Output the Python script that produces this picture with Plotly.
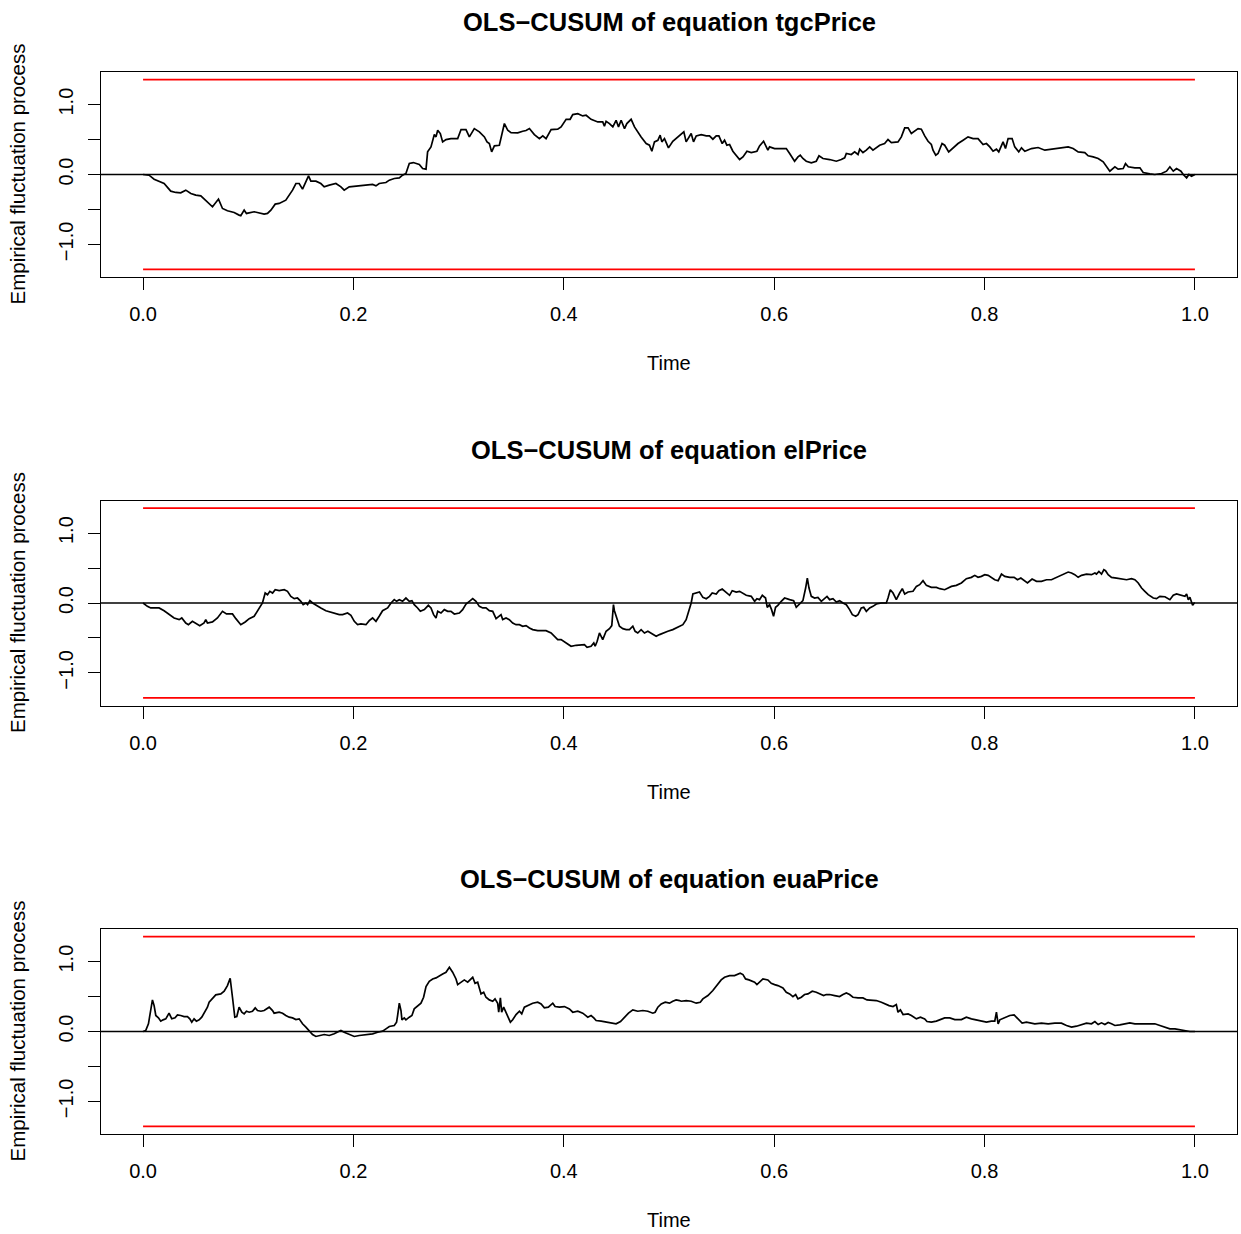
import plotly.graph_objects as go

# ---------------------------------------------------------------------------
# OLS-CUSUM empirical fluctuation processes (time on [0, 1])
# ---------------------------------------------------------------------------
t_tgc = [0.0000, 0.0057, 0.0105, 0.0152, 0.0200, 0.0263, 0.0311, 0.0358, 0.0406, 0.0454,
         0.0501, 0.0549, 0.0596, 0.0660, 0.0717, 0.0755, 0.0802, 0.0866, 0.0913, 0.0929,
         0.0961, 0.0983, 0.1056, 0.1151, 0.1183, 0.1215, 0.1256, 0.1294, 0.1357, 0.1389,
         0.1421, 0.1453, 0.1484, 0.1516, 0.1548, 0.1573, 0.1595, 0.1643, 0.1690, 0.1722,
         0.1770, 0.1833, 0.1881, 0.1912, 0.1960, 0.2055, 0.2119, 0.2182, 0.2214, 0.2245,
         0.2309, 0.2341, 0.2388, 0.2436, 0.2467, 0.2499, 0.2531, 0.2569, 0.2626, 0.2658,
         0.2690, 0.2705, 0.2737, 0.2769, 0.2785, 0.2801, 0.2826, 0.2848, 0.2880, 0.2927,
         0.2991, 0.3023, 0.3070, 0.3102, 0.3149, 0.3197, 0.3245, 0.3270, 0.3292, 0.3314,
         0.3340, 0.3387, 0.3435, 0.3467, 0.3498, 0.3562, 0.3609, 0.3641, 0.3673, 0.3720,
         0.3768, 0.3800, 0.3831, 0.3879, 0.3942, 0.3974, 0.4022, 0.4060, 0.4085, 0.4133,
         0.4180, 0.4212, 0.4259, 0.4323, 0.4370, 0.4386, 0.4402, 0.4434, 0.4466, 0.4497,
         0.4520, 0.4545, 0.4577, 0.4599, 0.4640, 0.4672, 0.4735, 0.4783, 0.4814, 0.4837,
         0.4862, 0.4894, 0.4916, 0.4932, 0.4957, 0.4995, 0.5036, 0.5100, 0.5116, 0.5141,
         0.5163, 0.5195, 0.5211, 0.5233, 0.5259, 0.5306, 0.5354, 0.5385, 0.5417, 0.5449,
         0.5474, 0.5506, 0.5528, 0.5550, 0.5576, 0.5607, 0.5639, 0.5671, 0.5703, 0.5741,
         0.5782, 0.5836, 0.5861, 0.5899, 0.5925, 0.5940, 0.5956, 0.6004, 0.6051, 0.6115,
         0.6147, 0.6194, 0.6226, 0.6248, 0.6273, 0.6305, 0.6353, 0.6400, 0.6426, 0.6464,
         0.6527, 0.6591, 0.6638, 0.6670, 0.6686, 0.6733, 0.6765, 0.6797, 0.6813, 0.6844,
         0.6876, 0.6908, 0.6939, 0.7003, 0.7050, 0.7082, 0.7114, 0.7177, 0.7209, 0.7241,
         0.7273, 0.7304, 0.7368, 0.7399, 0.7431, 0.7463, 0.7494, 0.7510, 0.7536, 0.7558,
         0.7596, 0.7621, 0.7659, 0.7701, 0.7748, 0.7796, 0.7843, 0.7891, 0.7938, 0.7986,
         0.8018, 0.8050, 0.8081, 0.8113, 0.8135, 0.8176, 0.8199, 0.8224, 0.8262, 0.8287,
         0.8325, 0.8351, 0.8383, 0.8446, 0.8509, 0.8573, 0.8636, 0.8684, 0.8731, 0.8795,
         0.8842, 0.8890, 0.8953, 0.8985, 0.9033, 0.9080, 0.9128, 0.9160, 0.9191, 0.9239,
         0.9270, 0.9318, 0.9340, 0.9366, 0.9429, 0.9477, 0.9508, 0.9572, 0.9619, 0.9683,
         0.9730, 0.9762, 0.9794, 0.9825, 0.9867, 0.9889, 0.9921, 0.9943, 0.9968, 1.0000]
v_tgc = [0.000, -0.010, -0.067, -0.095, -0.129, -0.238, -0.257, -0.262, -0.224, -0.271,
         -0.295, -0.305, -0.367, -0.462, -0.352, -0.486, -0.519, -0.543, -0.581, -0.590,
         -0.510, -0.557, -0.533, -0.567, -0.557, -0.510, -0.424, -0.414, -0.367, -0.295,
         -0.224, -0.129, -0.129, -0.210, -0.095, -0.019, -0.095, -0.095, -0.129, -0.176,
         -0.152, -0.129, -0.176, -0.224, -0.176, -0.162, -0.143, -0.143, -0.162, -0.129,
         -0.114, -0.081, -0.057, -0.048, -0.010, 0.014, 0.157, 0.171, 0.143, 0.086,
         0.076, 0.324, 0.395, 0.571, 0.538, 0.633, 0.586, 0.467, 0.500, 0.514,
         0.514, 0.643, 0.643, 0.538, 0.657, 0.610, 0.538, 0.467, 0.443, 0.324,
         0.410, 0.419, 0.729, 0.633, 0.600, 0.595, 0.619, 0.629, 0.657, 0.571,
         0.514, 0.552, 0.514, 0.643, 0.648, 0.681, 0.790, 0.790, 0.857, 0.871,
         0.838, 0.848, 0.790, 0.752, 0.752, 0.690, 0.762, 0.729, 0.681, 0.776,
         0.681, 0.776, 0.657, 0.729, 0.790, 0.681, 0.538, 0.443, 0.419, 0.333,
         0.467, 0.490, 0.562, 0.467, 0.514, 0.381, 0.476, 0.552, 0.571, 0.610,
         0.467, 0.562, 0.586, 0.467, 0.552, 0.571, 0.552, 0.552, 0.505, 0.552,
         0.552, 0.443, 0.490, 0.419, 0.429, 0.333, 0.276, 0.214, 0.252, 0.333,
         0.314, 0.333, 0.410, 0.476, 0.395, 0.348, 0.395, 0.371, 0.371, 0.371,
         0.300, 0.190, 0.252, 0.276, 0.229, 0.190, 0.167, 0.190, 0.267, 0.229,
         0.214, 0.190, 0.214, 0.238, 0.300, 0.286, 0.324, 0.286, 0.362, 0.314,
         0.348, 0.395, 0.348, 0.419, 0.443, 0.500, 0.457, 0.467, 0.538, 0.667,
         0.667, 0.586, 0.657, 0.648, 0.552, 0.476, 0.429, 0.348, 0.276, 0.300,
         0.443, 0.419, 0.324, 0.381, 0.443, 0.490, 0.538, 0.514, 0.514, 0.429,
         0.443, 0.395, 0.333, 0.362, 0.324, 0.467, 0.371, 0.514, 0.514, 0.395,
         0.324, 0.381, 0.333, 0.371, 0.386, 0.348, 0.362, 0.371, 0.381, 0.395,
         0.371, 0.324, 0.314, 0.267, 0.252, 0.229, 0.181, 0.110, 0.048, 0.110,
         0.076, 0.086, 0.157, 0.110, 0.095, 0.095, 0.029, 0.010, 0.000, 0.014,
         0.048, 0.110, 0.048, 0.086, 0.048, 0.000, -0.048, 0.000, -0.024, 0.000]

t_el = [0.0000, 0.0041, 0.0073, 0.0152, 0.0200, 0.0247, 0.0295, 0.0343, 0.0368, 0.0406,
        0.0431, 0.0469, 0.0507, 0.0539, 0.0580, 0.0596, 0.0612, 0.0660, 0.0707, 0.0755,
        0.0793, 0.0850, 0.0882, 0.0913, 0.0929, 0.0971, 0.1009, 0.1056, 0.1104, 0.1135,
        0.1161, 0.1183, 0.1205, 0.1231, 0.1256, 0.1294, 0.1342, 0.1373, 0.1405, 0.1437,
        0.1468, 0.1500, 0.1522, 0.1548, 0.1564, 0.1586, 0.1611, 0.1643, 0.1690, 0.1738,
        0.1801, 0.1865, 0.1897, 0.1944, 0.1976, 0.2008, 0.2039, 0.2071, 0.2119, 0.2150,
        0.2182, 0.2214, 0.2245, 0.2277, 0.2325, 0.2357, 0.2388, 0.2410, 0.2436, 0.2467,
        0.2499, 0.2531, 0.2556, 0.2578, 0.2610, 0.2636, 0.2674, 0.2712, 0.2737, 0.2762,
        0.2785, 0.2801, 0.2832, 0.2864, 0.2896, 0.2927, 0.2959, 0.3007, 0.3038, 0.3070,
        0.3102, 0.3134, 0.3165, 0.3197, 0.3229, 0.3260, 0.3292, 0.3324, 0.3356, 0.3387,
        0.3403, 0.3419, 0.3451, 0.3482, 0.3514, 0.3546, 0.3578, 0.3609, 0.3641, 0.3673,
        0.3704, 0.3752, 0.3784, 0.3831, 0.3879, 0.3911, 0.3942, 0.3974, 0.4022, 0.4069,
        0.4117, 0.4164, 0.4196, 0.4221, 0.4259, 0.4285, 0.4298, 0.4317, 0.4339, 0.4355,
        0.4370, 0.4402, 0.4434, 0.4456, 0.4472, 0.4481, 0.4507, 0.4529, 0.4561, 0.4593,
        0.4624, 0.4656, 0.4678, 0.4703, 0.4735, 0.4767, 0.4799, 0.4830, 0.4878, 0.4910,
        0.4941, 0.4989, 0.5036, 0.5100, 0.5132, 0.5163, 0.5189, 0.5211, 0.5227, 0.5259,
        0.5290, 0.5322, 0.5354, 0.5385, 0.5411, 0.5449, 0.5474, 0.5506, 0.5544, 0.5576,
        0.5601, 0.5639, 0.5671, 0.5696, 0.5734, 0.5782, 0.5814, 0.5836, 0.5861, 0.5887,
        0.5918, 0.5934, 0.5956, 0.5975, 0.5994, 0.6013, 0.6035, 0.6067, 0.6099, 0.6147,
        0.6185, 0.6210, 0.6248, 0.6273, 0.6299, 0.6315, 0.6331, 0.6353, 0.6384, 0.6416,
        0.6448, 0.6480, 0.6502, 0.6527, 0.6559, 0.6591, 0.6622, 0.6654, 0.6686, 0.6717,
        0.6743, 0.6775, 0.6797, 0.6828, 0.6851, 0.6876, 0.6908, 0.6939, 0.6971, 0.7019,
        0.7066, 0.7082, 0.7104, 0.7130, 0.7161, 0.7193, 0.7218, 0.7241, 0.7273, 0.7320,
        0.7352, 0.7383, 0.7415, 0.7447, 0.7494, 0.7542, 0.7574, 0.7621, 0.7637, 0.7685,
        0.7732, 0.7780, 0.7827, 0.7875, 0.7907, 0.7938, 0.7970, 0.8002, 0.8034, 0.8065,
        0.8097, 0.8129, 0.8161, 0.8192, 0.8240, 0.8281, 0.8313, 0.8345, 0.8376, 0.8408,
        0.8452, 0.8494, 0.8541, 0.8589, 0.8636, 0.8684, 0.8725, 0.8763, 0.8795, 0.8827,
        0.8858, 0.8890, 0.8922, 0.8969, 0.9017, 0.9049, 0.9064, 0.9087, 0.9112, 0.9134,
        0.9150, 0.9175, 0.9207, 0.9255, 0.9302, 0.9350, 0.9397, 0.9429, 0.9461, 0.9493,
        0.9524, 0.9556, 0.9604, 0.9635, 0.9667, 0.9715, 0.9762, 0.9794, 0.9825, 0.9873,
        0.9905, 0.9921, 0.9937, 0.9952, 0.9968, 0.9978, 0.9994, 1.0000]
v_el = [0.000, -0.048, -0.071, -0.071, -0.110, -0.167, -0.214, -0.238, -0.214, -0.286,
        -0.310, -0.262, -0.300, -0.324, -0.286, -0.238, -0.286, -0.271, -0.214, -0.119,
        -0.157, -0.157, -0.224, -0.286, -0.310, -0.271, -0.224, -0.190, -0.071, 0.000,
        0.143, 0.119, 0.167, 0.143, 0.190, 0.176, 0.190, 0.167, 0.095, 0.062,
        0.071, 0.024, -0.024, 0.000, -0.024, 0.033, 0.000, -0.033, -0.071, -0.110,
        -0.143, -0.167, -0.167, -0.143, -0.176, -0.262, -0.310, -0.300, -0.310, -0.252,
        -0.214, -0.262, -0.190, -0.110, -0.071, 0.000, 0.048, 0.024, 0.048, 0.024,
        0.071, 0.024, 0.033, -0.024, -0.071, -0.119, -0.095, -0.033, -0.071, -0.167,
        -0.214, -0.119, -0.143, -0.095, -0.119, -0.119, -0.157, -0.143, -0.095, -0.014,
        0.024, 0.062, 0.024, -0.048, -0.071, -0.071, -0.110, -0.119, -0.224, -0.190,
        -0.167, -0.238, -0.214, -0.238, -0.286, -0.310, -0.310, -0.333, -0.324, -0.357,
        -0.381, -0.395, -0.395, -0.395, -0.429, -0.476, -0.524, -0.524, -0.571, -0.619,
        -0.605, -0.595, -0.595, -0.633, -0.619, -0.571, -0.619, -0.548, -0.429, -0.476,
        -0.524, -0.405, -0.367, -0.324, -0.024, -0.110, -0.238, -0.333, -0.367, -0.381,
        -0.381, -0.333, -0.405, -0.429, -0.381, -0.429, -0.405, -0.429, -0.476, -0.452,
        -0.429, -0.405, -0.381, -0.333, -0.310, -0.238, -0.119, 0.000, 0.129, 0.143,
        0.157, 0.081, 0.062, 0.095, 0.143, 0.129, 0.176, 0.200, 0.157, 0.110,
        0.176, 0.157, 0.167, 0.143, 0.110, 0.095, 0.024, 0.062, 0.048, 0.110,
        0.071, -0.062, -0.024, -0.095, -0.190, -0.062, -0.033, 0.024, 0.071, 0.048,
        0.033, -0.062, 0.000, 0.033, 0.214, 0.357, 0.214, 0.095, 0.071, 0.081,
        0.024, 0.062, 0.095, 0.048, 0.062, 0.014, 0.033, 0.000, -0.024, -0.095,
        -0.167, -0.190, -0.167, -0.071, -0.062, -0.119, -0.071, -0.048, -0.014, 0.000,
        0.000, 0.071, 0.190, 0.143, 0.048, 0.143, 0.205, 0.129, 0.157, 0.167,
        0.238, 0.262, 0.319, 0.252, 0.224, 0.224, 0.205, 0.190, 0.200, 0.238,
        0.252, 0.286, 0.348, 0.367, 0.395, 0.367, 0.381, 0.405, 0.395, 0.367,
        0.333, 0.319, 0.414, 0.381, 0.367, 0.367, 0.333, 0.357, 0.319, 0.286,
        0.343, 0.310, 0.310, 0.333, 0.333, 0.367, 0.395, 0.429, 0.443, 0.429,
        0.405, 0.367, 0.395, 0.414, 0.405, 0.429, 0.414, 0.452, 0.414, 0.476,
        0.462, 0.405, 0.367, 0.357, 0.348, 0.333, 0.348, 0.333, 0.286, 0.214,
        0.167, 0.119, 0.071, 0.062, 0.095, 0.090, 0.048, 0.110, 0.129, 0.110,
        0.095, 0.129, 0.048, 0.081, 0.024, -0.033, 0.000, 0.000]

t_eua = [0.0000, 0.0025, 0.0051, 0.0073, 0.0089, 0.0105, 0.0121, 0.0146, 0.0168, 0.0190,
         0.0216, 0.0247, 0.0273, 0.0304, 0.0327, 0.0358, 0.0390, 0.0422, 0.0444, 0.0463,
         0.0485, 0.0507, 0.0533, 0.0558, 0.0580, 0.0612, 0.0628, 0.0660, 0.0691, 0.0739,
         0.0771, 0.0802, 0.0828, 0.0850, 0.0872, 0.0891, 0.0913, 0.0939, 0.0961, 0.0983,
         0.1009, 0.1040, 0.1066, 0.1088, 0.1120, 0.1151, 0.1199, 0.1231, 0.1246, 0.1294,
         0.1326, 0.1357, 0.1389, 0.1421, 0.1453, 0.1484, 0.1516, 0.1548, 0.1579, 0.1611,
         0.1643, 0.1690, 0.1722, 0.1770, 0.1817, 0.1859, 0.1881, 0.1912, 0.1960, 0.2008,
         0.2055, 0.2119, 0.2182, 0.2230, 0.2277, 0.2309, 0.2341, 0.2388, 0.2410, 0.2420,
         0.2436, 0.2452, 0.2461, 0.2483, 0.2499, 0.2531, 0.2556, 0.2578, 0.2610, 0.2642,
         0.2667, 0.2690, 0.2721, 0.2753, 0.2785, 0.2816, 0.2848, 0.2880, 0.2912, 0.2943,
         0.2975, 0.2991, 0.3023, 0.3054, 0.3086, 0.3111, 0.3134, 0.3156, 0.3181, 0.3213,
         0.3238, 0.3260, 0.3292, 0.3324, 0.3346, 0.3371, 0.3381, 0.3397, 0.3409, 0.3428,
         0.3451, 0.3473, 0.3492, 0.3514, 0.3546, 0.3578, 0.3600, 0.3625, 0.3663, 0.3704,
         0.3752, 0.3784, 0.3815, 0.3853, 0.3895, 0.3917, 0.3958, 0.4006, 0.4053, 0.4085,
         0.4133, 0.4180, 0.4228, 0.4259, 0.4285, 0.4307, 0.4355, 0.4402, 0.4450, 0.4497,
         0.4539, 0.4577, 0.4615, 0.4656, 0.4703, 0.4751, 0.4799, 0.4846, 0.4868, 0.4894,
         0.4926, 0.4964, 0.5005, 0.5036, 0.5068, 0.5100, 0.5116, 0.5163, 0.5211, 0.5259,
         0.5297, 0.5322, 0.5370, 0.5417, 0.5465, 0.5496, 0.5528, 0.5576, 0.5623, 0.5655,
         0.5677, 0.5703, 0.5728, 0.5760, 0.5791, 0.5814, 0.5836, 0.5861, 0.5893, 0.5940,
         0.5972, 0.6004, 0.6035, 0.6083, 0.6115, 0.6147, 0.6178, 0.6204, 0.6226, 0.6258,
         0.6289, 0.6321, 0.6362, 0.6400, 0.6438, 0.6470, 0.6495, 0.6527, 0.6575, 0.6622,
         0.6654, 0.6686, 0.6717, 0.6749, 0.6797, 0.6844, 0.6882, 0.6924, 0.6971, 0.7019,
         0.7050, 0.7092, 0.7130, 0.7161, 0.7177, 0.7200, 0.7225, 0.7273, 0.7304, 0.7352,
         0.7390, 0.7431, 0.7453, 0.7494, 0.7542, 0.7590, 0.7621, 0.7669, 0.7717, 0.7780,
         0.7827, 0.7875, 0.7923, 0.7970, 0.8018, 0.8065, 0.8097, 0.8113, 0.8129, 0.8145,
         0.8192, 0.8240, 0.8281, 0.8303, 0.8335, 0.8357, 0.8398, 0.8446, 0.8478, 0.8541,
         0.8605, 0.8668, 0.8731, 0.8779, 0.8827, 0.8874, 0.8922, 0.8969, 0.9017, 0.9049,
         0.9080, 0.9112, 0.9144, 0.9175, 0.9207, 0.9239, 0.9286, 0.9334, 0.9381, 0.9429,
         0.9493, 0.9556, 0.9619, 0.9667, 0.9715, 0.9762, 0.9810, 0.9857, 0.9905, 0.9952,
         1.0000]
v_eua = [0.000, 0.014, 0.110, 0.300, 0.452, 0.371, 0.229, 0.195, 0.148, 0.167,
         0.181, 0.262, 0.181, 0.195, 0.238, 0.229, 0.214, 0.214, 0.181, 0.133,
         0.181, 0.148, 0.167, 0.205, 0.262, 0.348, 0.419, 0.481, 0.524, 0.538,
         0.576, 0.657, 0.762, 0.490, 0.205, 0.214, 0.348, 0.276, 0.252, 0.290,
         0.276, 0.290, 0.338, 0.300, 0.290, 0.300, 0.348, 0.300, 0.262, 0.276,
         0.262, 0.229, 0.205, 0.195, 0.171, 0.181, 0.110, 0.062, 0.014, -0.043,
         -0.071, -0.057, -0.043, -0.057, -0.033, 0.000, 0.014, -0.010, -0.043, -0.071,
         -0.057, -0.043, -0.033, -0.010, 0.005, 0.038, 0.071, 0.086, 0.133, 0.229,
         0.405, 0.300, 0.167, 0.195, 0.167, 0.205, 0.229, 0.324, 0.371, 0.405,
         0.490, 0.643, 0.719, 0.752, 0.767, 0.800, 0.824, 0.848, 0.919, 0.848,
         0.752, 0.671, 0.705, 0.738, 0.705, 0.738, 0.776, 0.690, 0.705, 0.538,
         0.562, 0.490, 0.452, 0.433, 0.467, 0.405, 0.276, 0.481, 0.276, 0.348,
         0.276, 0.205, 0.133, 0.167, 0.243, 0.290, 0.252, 0.348, 0.371, 0.405,
         0.419, 0.395, 0.338, 0.348, 0.405, 0.357, 0.348, 0.357, 0.324, 0.276,
         0.290, 0.262, 0.205, 0.229, 0.195, 0.157, 0.148, 0.133, 0.119, 0.110,
         0.143, 0.205, 0.262, 0.310, 0.290, 0.300, 0.290, 0.262, 0.276, 0.348,
         0.395, 0.419, 0.405, 0.433, 0.452, 0.443, 0.433, 0.443, 0.433, 0.405,
         0.419, 0.467, 0.514, 0.586, 0.671, 0.738, 0.776, 0.800, 0.800, 0.814,
         0.833, 0.814, 0.752, 0.738, 0.719, 0.705, 0.671, 0.705, 0.752, 0.738,
         0.690, 0.671, 0.657, 0.624, 0.562, 0.538, 0.500, 0.529, 0.467, 0.490,
         0.529, 0.538, 0.576, 0.562, 0.538, 0.514, 0.529, 0.529, 0.514, 0.500,
         0.529, 0.552, 0.529, 0.490, 0.481, 0.481, 0.452, 0.452, 0.443, 0.419,
         0.395, 0.371, 0.357, 0.386, 0.276, 0.310, 0.243, 0.252, 0.229, 0.181,
         0.205, 0.181, 0.143, 0.133, 0.148, 0.181, 0.195, 0.195, 0.171, 0.171,
         0.205, 0.181, 0.167, 0.148, 0.133, 0.148, 0.148, 0.276, 0.110, 0.167,
         0.195, 0.229, 0.238, 0.205, 0.148, 0.119, 0.133, 0.119, 0.110, 0.119,
         0.110, 0.119, 0.119, 0.086, 0.062, 0.076, 0.095, 0.119, 0.110, 0.143,
         0.100, 0.124, 0.100, 0.129, 0.110, 0.086, 0.095, 0.110, 0.124, 0.110,
         0.110, 0.110, 0.110, 0.086, 0.062, 0.038, 0.038, 0.024, 0.005, 0.000,
         0.000]

equations = ["tgcPrice", "elPrice", "euaPrice"]
series_t = [t_tgc, t_el, t_eua]
series_v = [v_tgc, v_el, v_eua]

# 5% boundary of the OLS-based CUSUM test
boundary = 1.358

x_ticks = [0.0, 0.2, 0.4, 0.6, 0.8, 1.0]
x_ticktext = ["0.0", "0.2", "0.4", "0.6", "0.8", "1.0"]
y_ticks = [-1.0, -0.5, 0.0, 0.5, 1.0]
y_ticktext = ["\u22121.0", "", "0.0", "", "1.0"]

# ---------------------------------------------------------------------------
# page geometry (pixels)
# ---------------------------------------------------------------------------
W, H = 1241, 1234
FONT = "Liberation Sans, Arial, Helvetica, sans-serif"
BOX_L, BOX_R = 101, 1237
BOX_TOP0, BOX_H, STEP = 72, 205, 428.5


def px_x(p):
    return p / W


def px_y(p):
    return 1 - p / H


fig = go.Figure()
annotations = []
layout = {}

for i, (name, tt, vv) in enumerate(zip(equations, series_t, series_v)):
    k = "" if i == 0 else str(i + 1)
    top = BOX_TOP0 + i * STEP
    bottom = top + BOX_H
    xa, ya = "x" + k, "y" + k

    # boundaries
    for b in (boundary, -boundary):
        fig.add_trace(go.Scatter(x=[0, 1], y=[b, b], mode="lines",
                                 line=dict(color="#ff0000", width=1.6),
                                 xaxis=xa, yaxis=ya, showlegend=False, hoverinfo="skip"))
    # reference line at zero
    fig.add_trace(go.Scatter(x=[-0.04, 1.04], y=[0, 0], mode="lines",
                             line=dict(color="black", width=1.6),
                             xaxis=xa, yaxis=ya, showlegend=False, hoverinfo="skip"))
    # fluctuation process
    fig.add_trace(go.Scatter(x=tt, y=vv, mode="lines",
                             line=dict(color="black", width=1.7),
                             xaxis=xa, yaxis=ya, showlegend=False))

    layout["xaxis" + k] = dict(
        domain=[px_x(BOX_L), px_x(BOX_R)], anchor=ya, range=[-0.04, 1.04],
        tickvals=x_ticks, ticktext=x_ticktext, ticks="outside", ticklen=12,
        tickwidth=1.2, tickcolor="black", showline=True, mirror=True,
        linecolor="black", linewidth=1.2, showgrid=False, zeroline=False,
        ticklabelstandoff=7,
        tickfont=dict(family=FONT, size=20, color="black"), fixedrange=True)
    layout["yaxis" + k] = dict(
        domain=[px_y(bottom), px_y(top)], anchor=xa,
        range=[-boundary * 1.08, boundary * 1.08],
        tickvals=y_ticks, ticktext=y_ticktext, ticks="outside", ticklen=12,
        tickwidth=1.2, tickcolor="black", tickangle=-90, showline=True, mirror=True,
        linecolor="black", linewidth=1.2, showgrid=False, zeroline=False,
        ticklabelstandoff=7,
        tickfont=dict(family=FONT, size=20, color="black"), fixedrange=True)

    annotations.append(dict(
        text="<b>OLS\u2212CUSUM of equation " + name + "</b>",
        x=px_x((BOX_L + BOX_R) / 2), y=px_y(top - 50), xref="paper", yref="paper",
        xanchor="center", yanchor="middle", showarrow=False,
        font=dict(family=FONT, size=25.5, color="black")))
    annotations.append(dict(
        text="Time", x=px_x((BOX_L + BOX_R) / 2), y=px_y(bottom + 86),
        xref="paper", yref="paper", xanchor="center", yanchor="middle",
        showarrow=False, font=dict(family=FONT, size=20, color="black")))
    annotations.append(dict(
        text="Empirical fluctuation process", x=px_x(17), y=px_y((top + bottom) / 2),
        xref="paper", yref="paper", xanchor="center", yanchor="middle",
        textangle=-90, showarrow=False,
        font=dict(family=FONT, size=20.5, color="black")))

fig.update_layout(
    width=W, height=H, margin=dict(l=0, r=0, t=0, b=0),
    paper_bgcolor="white", plot_bgcolor="white",
    annotations=annotations, **layout)

fig.write_html("out.html")
